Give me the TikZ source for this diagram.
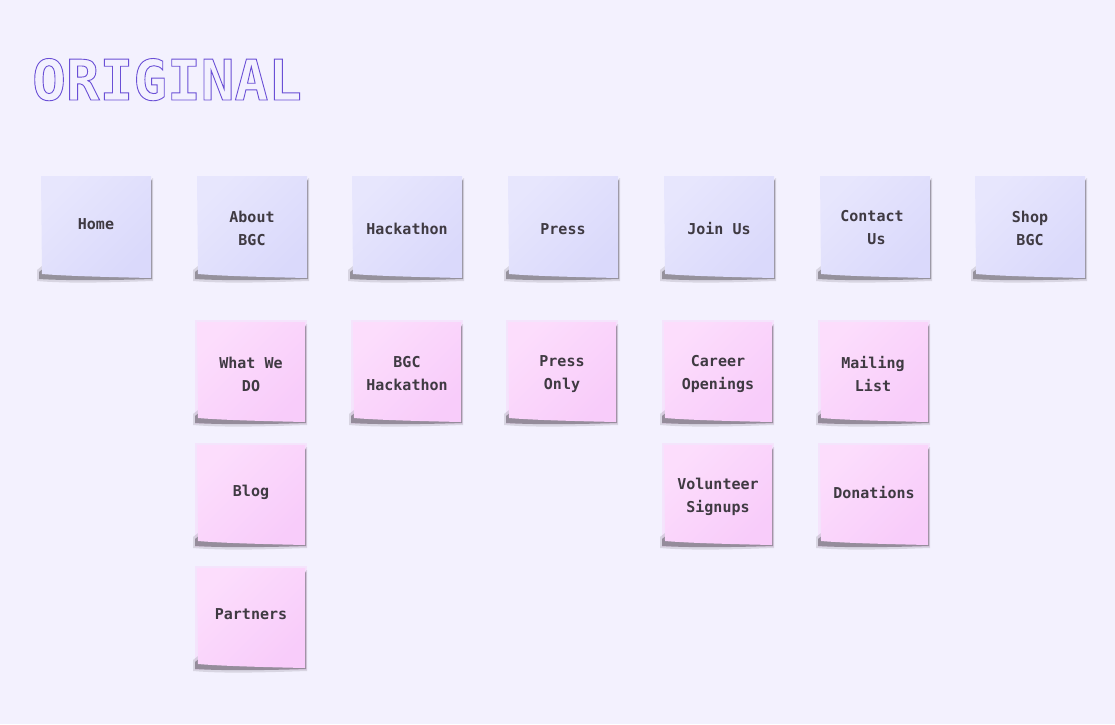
\documentclass[tikz,border=0pt]{standalone}
\usepackage{fontspec}
\setmonofont{DejaVu Sans Mono}
\usetikzlibrary{calc,backgrounds}
\definecolor{paper}{HTML}{F3F1FE}
\definecolor{ink}{HTML}{3F3A42}
\definecolor{lav1}{HTML}{DAD9FB}
\definecolor{lav2}{HTML}{E7E6FD}
\definecolor{pink1}{HTML}{F8CCFA}
\definecolor{pink2}{HTML}{FCDDFC}
\definecolor{shade1}{HTML}{5E5A63}
\definecolor{violet1}{HTML}{6A4FD6}

\tikzset{
  note/.style={minimum width=110pt, minimum height=102pt, inner sep=0pt, align=center,
    text=ink, font=\ttfamily\bfseries\fontsize{15}{23}\selectfont},
  subnote/.style={note, minimum width=108pt, minimum height=100pt},
}

\begin{document}
\begin{tikzpicture}[x=1pt,y=-1pt]
  \useasboundingbox (0,0) rectangle (1115,724);
  % title, outlined letters
  \node[anchor=base west, inner sep=0pt, text=violet1, font=\ttfamily\bfseries\fontsize{56}{56}\selectfont] (title) at (32,100)
    {\special{pdf:literal direct 1 Tr 0.9 w}ORIGINAL\special{pdf:literal direct 0 Tr}};
  % top level pages
  \node[note] (home) at (96,224) {Home};
  \node[note] (about) at (252,228) {About\\BGC};
  \node[note] (hack) at (407,229) {Hackathon};
  \node[note] (press) at (563,229) {Press};
  \node[note] (join) at (719,229) {Join Us};
  \node[note] (contact) at (872,228) {Contact\\\hspace*{9pt}Us};
  \node[note] (shop) at (1030,228) {Shop\\BGC};
  % sub pages
  \node[subnote] (whatwe) at (251,374) {What We\\DO};
  \node[subnote] (blog) at (251,492) {Blog};
  \node[subnote] (partners) at (251,614) {Partners};
  \node[subnote] (bgchack) at (407,374) {BGC\\Hackathon};
  \node[subnote] (pressonly) at (562,374) {Press\\Only};
  \node[subnote] (career) at (718,374) {Career\\Openings};
  \node[subnote] (volunteer) at (718,497) {Volunteer\\Signups};
  \node[subnote] (mailing) at (873,374) {Mailing\\List};
  \node[subnote] (donations) at (874,492) {Donations};
  % paper + curled shadow behind every note
  \begin{scope}[on background layer]
    \fill[paper] (0,0) rectangle (1115,724);
    \foreach \n/\ca/\cb/\px/\py in {home/lav1/lav2/96/227, about/lav1/lav2/252/227, hack/lav1/lav2/407/227,
        press/lav1/lav2/563/227, join/lav1/lav2/719/227, contact/lav1/lav2/875/227, shop/lav1/lav2/1030/227} {
      \coordinate (nw) at (\px-55,\py-51); \coordinate (se) at (\px+55,\py+51);
      \coordinate (sw) at (\px-55,\py+51); \coordinate (ne) at (\px+55,\py-51);
      \fill[shade1, opacity=0.18] ($(sw)+(-4,-8)$) -- ($(sw)+(-4,3)$)
        .. controls ($(sw)+(30,6)$) and ($(se)+(-30,4)$) .. ($(se)+(2,3)$) -- ($(ne)+(2,2)$) -- cycle;
      \fill[shade1, opacity=0.55] ($(sw)+(-2,-6)$) -- ($(sw)+(-2,1)$)
        .. controls ($(sw)+(30,3)$) and ($(se)+(-30,2)$) .. ($(se)+(1,1)$) -- ($(ne)+(1,4)$) -- cycle;
      \shade[top color=\cb, bottom color=\ca, shading angle=45] (nw) -- (ne) -- (se)
        .. controls ($(se)+(-45,-1)$) and ($(sw)+(25,-2)$) .. ($(sw)+(1,-4)$) -- cycle;
    }
    \foreach \n/\ca/\cb/\px/\py in {whatwe/pink1/pink2/251/372, blog/pink1/pink2/251/495, partners/pink1/pink2/251/618,
        bgchack/pink1/pink2/407/372, pressonly/pink1/pink2/562/372, career/pink1/pink2/718/372,
        volunteer/pink1/pink2/718/495, mailing/pink1/pink2/874/372, donations/pink1/pink2/874/495} {
      \coordinate (nw) at (\px-54,\py-50); \coordinate (se) at (\px+54,\py+50);
      \coordinate (sw) at (\px-54,\py+50); \coordinate (ne) at (\px+54,\py-50);
      \fill[pink1, opacity=0.35] ($(nw)+(-2,-2)$) rectangle ($(se)+(2,2)$);
      \fill[shade1, opacity=0.18] ($(sw)+(-4,-8)$) -- ($(sw)+(-4,3)$)
        .. controls ($(sw)+(30,6)$) and ($(se)+(-30,4)$) .. ($(se)+(2,3)$) -- ($(ne)+(2,2)$) -- cycle;
      \fill[shade1, opacity=0.55] ($(sw)+(-2,-6)$) -- ($(sw)+(-2,1)$)
        .. controls ($(sw)+(30,3)$) and ($(se)+(-30,2)$) .. ($(se)+(1,1)$) -- ($(ne)+(1,4)$) -- cycle;
      \shade[top color=\cb, bottom color=\ca, shading angle=45] (nw) -- (ne) -- (se)
        .. controls ($(se)+(-45,-1)$) and ($(sw)+(25,-2)$) .. ($(sw)+(1,-4)$) -- cycle;
    }
  \end{scope}
\end{tikzpicture}
\end{document}
